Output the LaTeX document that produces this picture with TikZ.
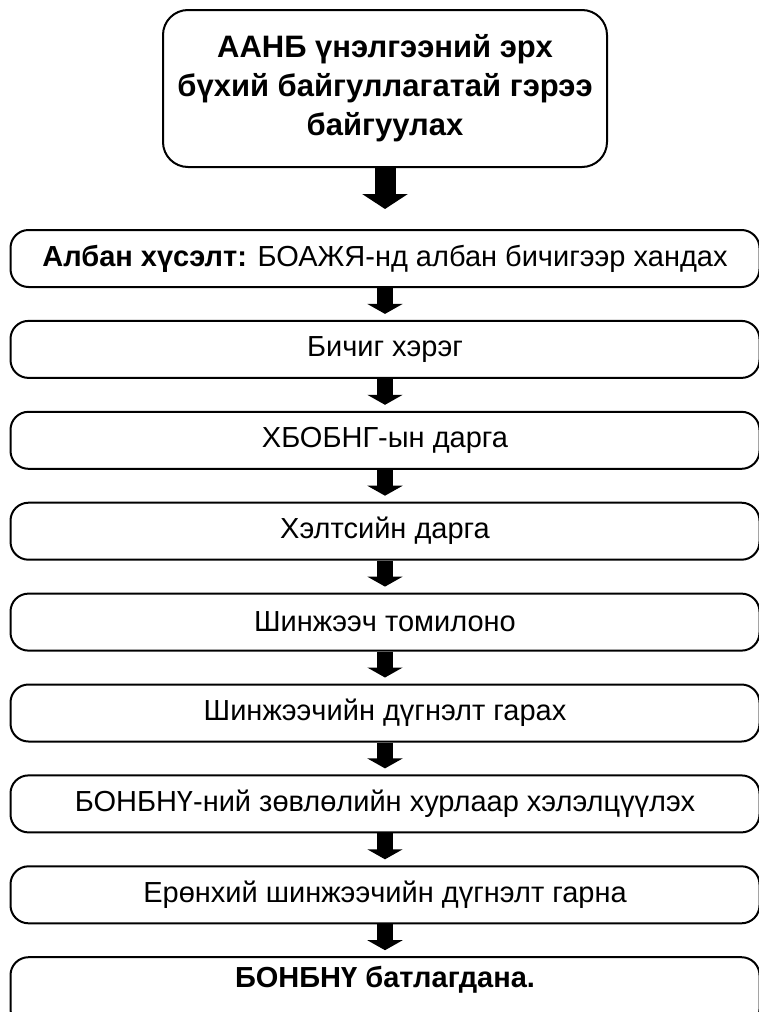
\documentclass[tikz,border=0pt]{standalone}
\usepackage{fontspec}
\setmainfont{Liberation Sans}
\usetikzlibrary{positioning,arrows.meta}

\tikzset{
  stage/.style={draw, line width=2pt, rounded corners=18pt, minimum width=749pt,
    minimum height=57pt, inner sep=0pt, font=\fontsize{29}{34}\selectfont},
  topstage/.style={stage, rounded corners=25pt, minimum width=444pt, minimum height=157pt,
    align=center, font=\bfseries\fontsize{31}{39}\selectfont},
  laststage/.style={stage, minimum height=70pt, text height=21pt, text depth=31pt},
  blockarrow/.style={line width=16pt, -{Triangle[width=35pt,length=10pt]}},
  bigarrow/.style={line width=21pt, -{Triangle[width=45pt,length=15pt]}},
}

\begin{document}
\begin{tikzpicture}[x=1pt,y=1pt]
\useasboundingbox (0,0) rectangle (759,-1012);

% Gap between the stage boxes
\def\gap{31.9}

% Top box
\node[topstage] (start) at (385,-88.5) {ААНБ үнэлгээний эрх\\бүхий байгуллагатай гэрээ\\байгуулах};

% Stage boxes
\node[stage] (s1) at (385,-258.5) {\textbf{Албан хүсэлт:} БОАЖЯ-нд албан бичигээр хандах};
\foreach \txt [count=\i from 2, evaluate=\i as \j using int(\i-1)] in {
    Бичиг хэрэг,
    ХБОБНГ-ын дарга,
    Хэлтсийн дарга,
    Шинжээч томилоно,
    Шинжээчийн дүгнэлт гарах,
    БОНБНҮ-ний зөвлөлийн хурлаар хэлэлцүүлэх,
    Ерөнхий шинжээчийн дүгнэлт гарна} {
  \node[stage, below=\gap pt of s\j] (s\i) {\txt};
}
\node[laststage, below=\gap pt of s8] (s9) {\textbf{БОНБНҮ батлагдана.}};

% Block arrows
\draw[bigarrow] (start.south) -- ([yshift=20pt]s1.north);
\foreach \i in {1,...,8} {
  \pgfmathtruncatemacro\k{\i+1}
  \draw[blockarrow] (s\i.south) -- ([yshift=6pt]s\k.north); % arrow to next stage
}

\end{tikzpicture}
\end{document}
